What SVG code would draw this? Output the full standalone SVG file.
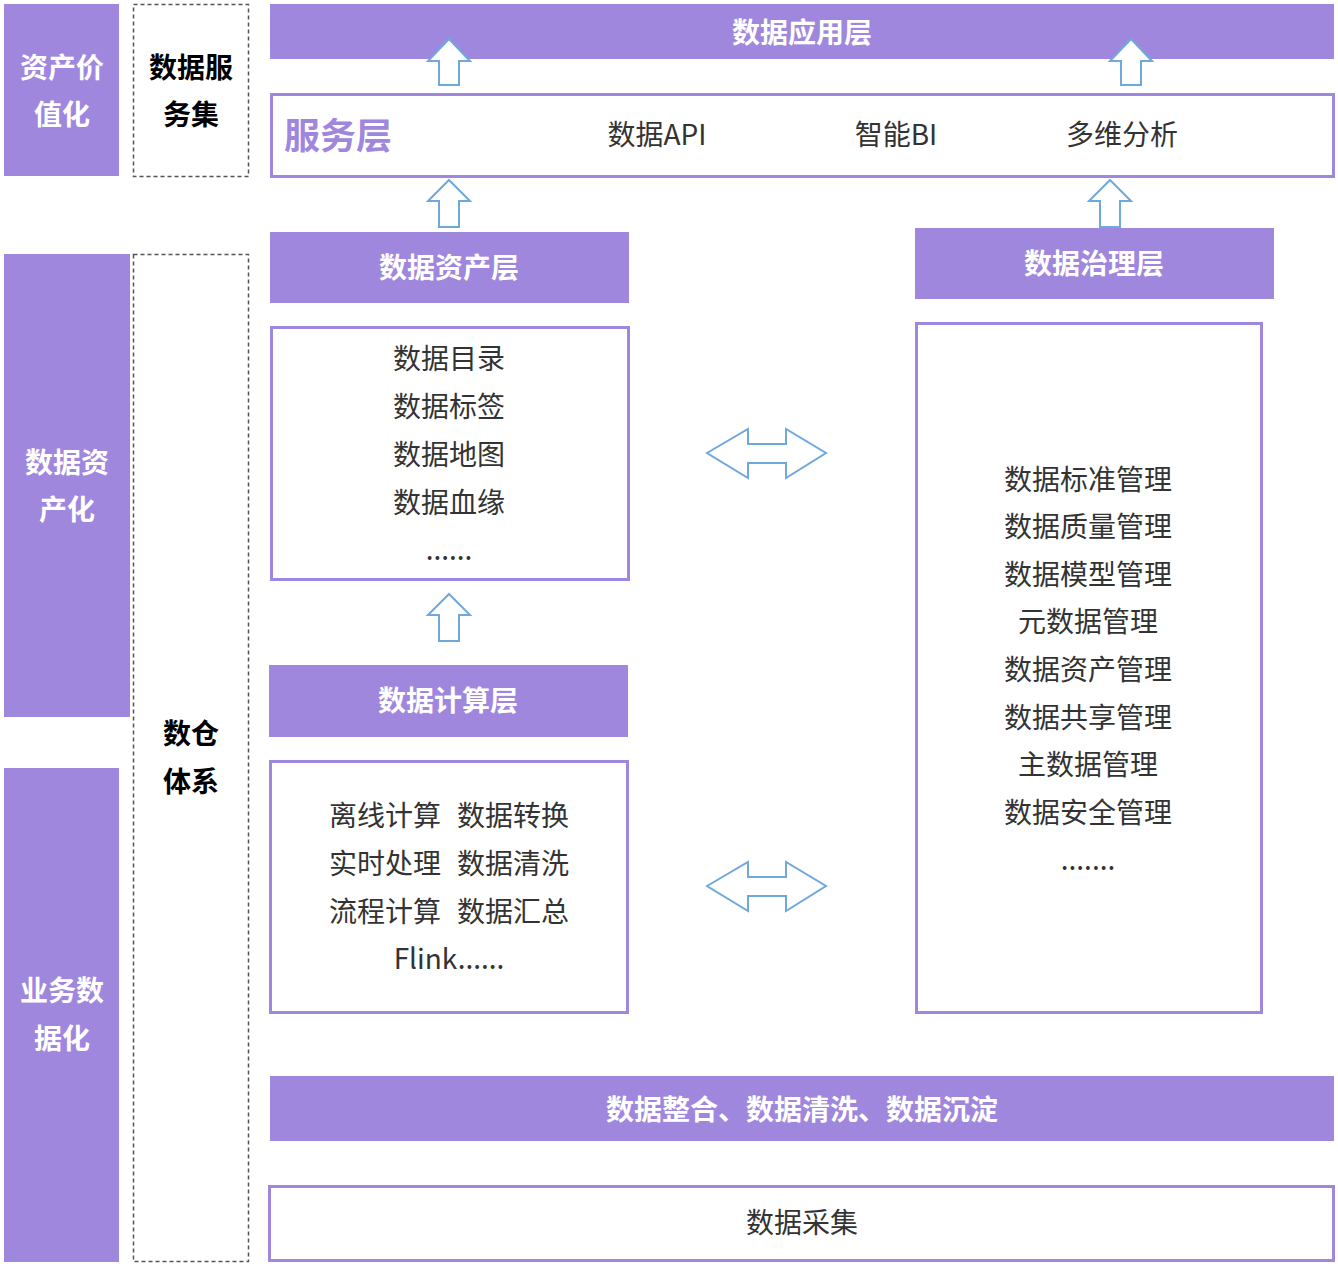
<svg xmlns="http://www.w3.org/2000/svg" width="1338" height="1266" viewBox="0 0 1338 1266">
<style>
.bar{fill:#A087DE}
.box{fill:#fff;stroke:#A087DE;stroke-width:3}
.dash{fill:#fff;stroke:#555;stroke-width:1.5;stroke-dasharray:4 3}
.arr{fill:#fff;stroke:#6FA8DC;stroke-width:2;stroke-linejoin:miter}
text{font-family:"Microsoft YaHei","Noto Sans CJK SC","Noto Sans",sans-serif;dominant-baseline:central;text-anchor:middle}
.wb{fill:#fff;font-weight:bold;font-size:28px}
.kb{fill:#000;font-weight:bold;font-size:28px}
.t{fill:#333;font-size:28px}
</style>
<rect width="1338" height="1266" fill="#fff"/>
<g id="side-value"><rect class="bar" x="4" y="4" width="115" height="172"/><text class="wb" x="62" y="66">资产价</text><text class="wb" x="62" y="113">值化</text></g>
<g id="side-service"><rect class="dash" x="133.5" y="4.5" width="115" height="172"/><text class="kb" x="191" y="66">数据服</text><text class="kb" x="191" y="113">务集</text></g>
<g id="side-asset"><rect class="bar" x="4" y="254" width="126" height="463"/><text class="wb" x="67" y="461">数据资</text><text class="wb" x="67" y="508">产化</text></g>
<g id="side-dw"><rect class="dash" x="133.5" y="254.5" width="115" height="1007"/><text class="kb" x="191" y="732">数仓</text><text class="kb" x="191" y="780">体系</text></g>
<g id="side-biz"><rect class="bar" x="4" y="768" width="115" height="494"/><text class="wb" x="62" y="989">业务数</text><text class="wb" x="62" y="1037">据化</text></g>
<g id="app-layer"><rect class="bar" x="270" y="4" width="1064" height="55"/><text class="wb" x="802" y="31">数据应用层</text></g>
<g id="service-layer"><rect class="box" x="271.5" y="94.5" width="1062" height="82"/><text x="338" y="133" style="fill:#A087DE;font-weight:bold;font-size:36px">服务层</text><text class="t" x="657" y="133">数据API</text><text class="t" x="896" y="133">智能BI</text><text class="t" x="1122" y="133">多维分析</text></g>
<g id="asset-layer"><rect class="bar" x="270" y="232" width="359" height="71"/><text class="wb" x="449" y="266">数据资产层</text></g>
<g id="gov-layer"><rect class="bar" x="915" y="228" width="359" height="71"/><text class="wb" x="1094" y="262">数据治理层</text></g>
<g id="asset-list"><rect class="box" x="271.5" y="327.5" width="357" height="252"/><text class="t" x="449" y="357">数据目录</text><text class="t" x="449" y="405">数据标签</text><text class="t" x="449" y="453">数据地图</text><text class="t" x="449" y="501">数据血缘</text><text class="t" x="449" y="548">......</text></g>
<g id="compute-layer"><rect class="bar" x="269" y="665" width="359" height="72"/><text class="wb" x="448" y="699">数据计算层</text></g>
<g id="compute-list"><rect class="box" x="270.5" y="761.5" width="357" height="251"/>
<text class="t" x="385" y="814">离线计算</text><text class="t" x="513" y="814">数据转换</text>
<text class="t" x="385" y="862">实时处理</text><text class="t" x="513" y="862">数据清洗</text>
<text class="t" x="385" y="910">流程计算</text><text class="t" x="513" y="910">数据汇总</text>
<text class="t" x="449" y="957">Flink......</text></g>
<g id="gov-list"><rect class="box" x="916.5" y="323.5" width="345" height="689"/><text class="t" x="1088" y="478">数据标准管理</text><text class="t" x="1088" y="525">数据质量管理</text><text class="t" x="1088" y="573">数据模型管理</text><text class="t" x="1088" y="620">元数据管理</text><text class="t" x="1088" y="668">数据资产管理</text><text class="t" x="1088" y="716">数据共享管理</text><text class="t" x="1088" y="763">主数据管理</text><text class="t" x="1088" y="811">数据安全管理</text><text class="t" x="1088" y="858">.......</text></g>
<g id="integrate"><rect class="bar" x="270" y="1076" width="1064" height="65"/><text class="wb" x="802" y="1108">数据整合、数据清洗、数据沉淀</text></g>
<g id="collect"><rect class="box" x="269.5" y="1186.5" width="1064" height="74"/><text class="t" x="802" y="1221">数据采集</text></g>
<g id="connectors">
<polygon class="arr" points="449,39 470,61 459,61 459,85 439,85 439,61 428,61"/>
<polygon class="arr" points="1131,39 1152,61 1141,61 1141,85 1121,85 1121,61 1110,61"/>
<polygon class="arr" points="449,180 470,201 459,201 459,227 439,227 439,201 428,201"/>
<polygon class="arr" points="1110,180 1131,201 1120,201 1120,227 1100,227 1100,201 1089,201"/>
<polygon class="arr" points="449,594 470,615 459,615 459,641 439,641 439,615 428,615"/>
<polygon class="arr" points="707,453 748,429 748,444 786,444 786,429 826,453 786,478 786,463 748,463 748,478"/>
<polygon class="arr" points="707,886 748,862 748,877 786,877 786,862 826,886 786,911 786,896 748,896 748,911"/>
</g>
</svg>
